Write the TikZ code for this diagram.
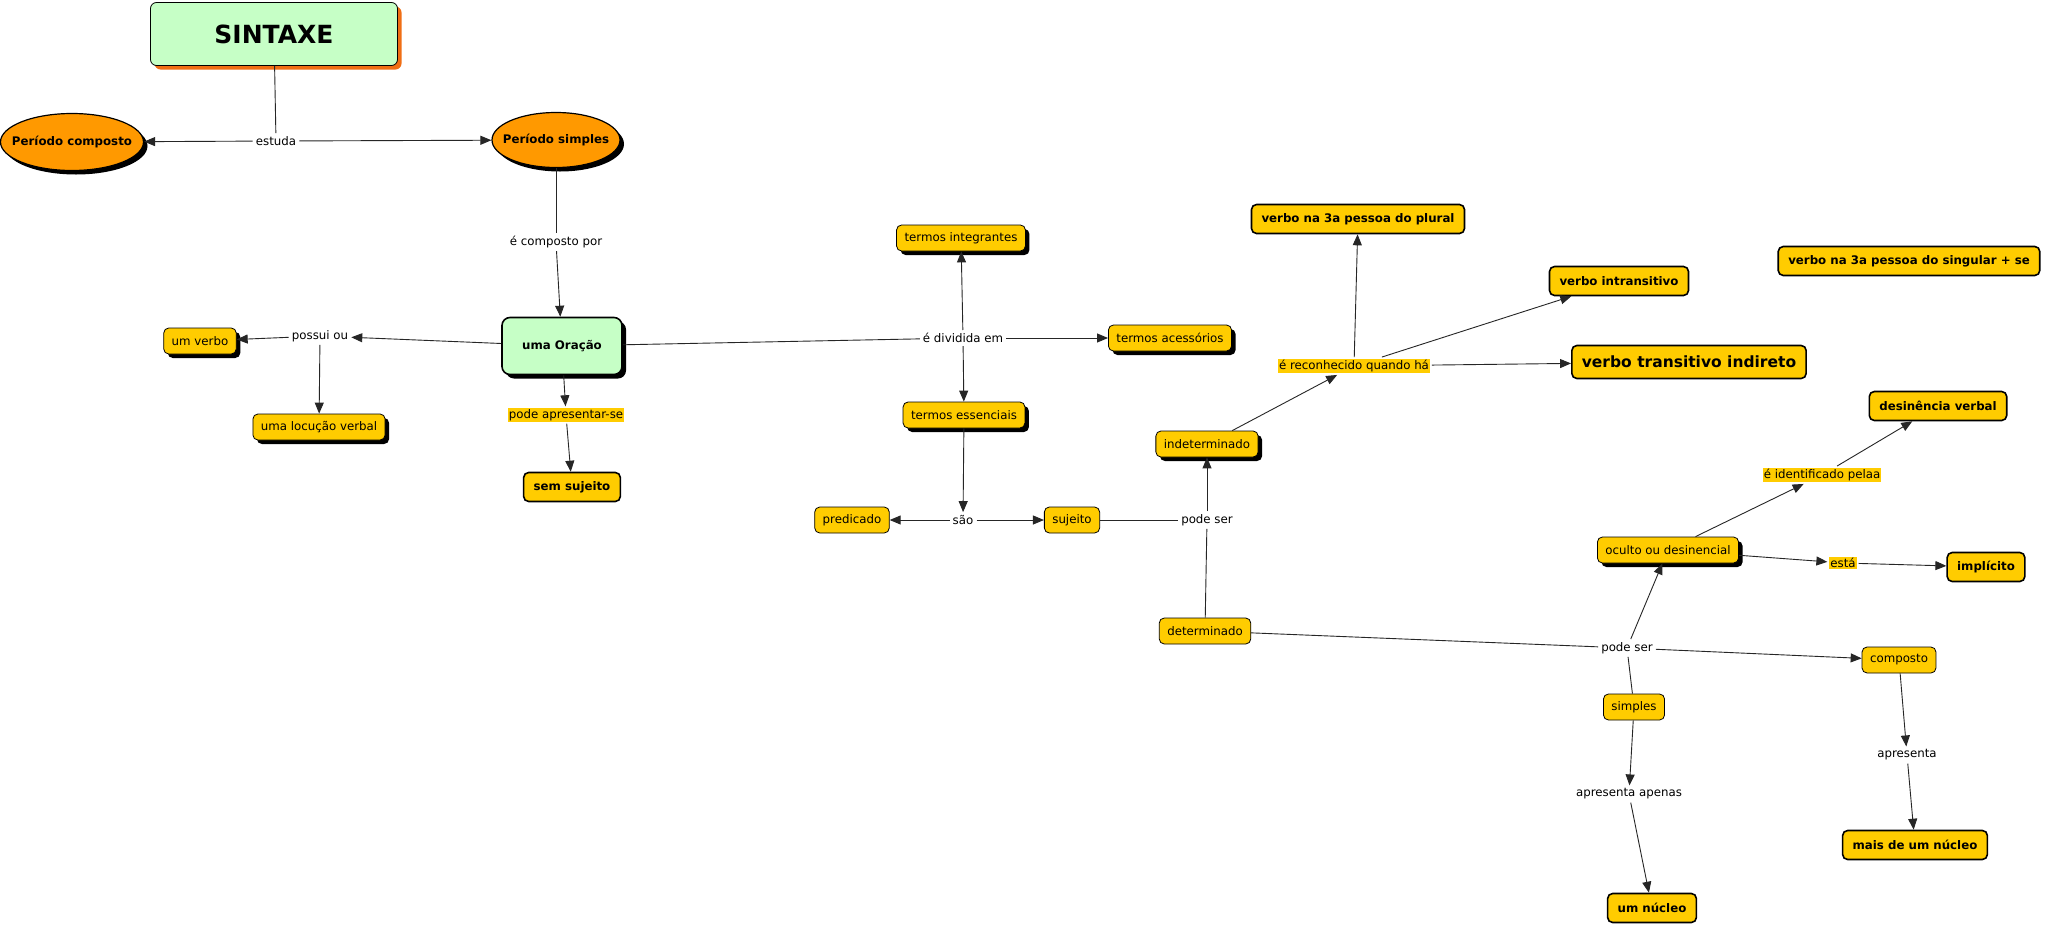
\documentclass[tikz,border=0pt]{standalone}
\usepackage{fontspec}
\setmainfont{DejaVu Sans}
\usetikzlibrary{arrows.meta,shapes.geometric,shadows}
\definecolor{cmapyellow}{RGB}{255,204,0}
\definecolor{cmaporange}{RGB}{255,153,0}
\definecolor{cmapgreen}{RGB}{198,255,198}
\definecolor{titleshadow}{RGB}{240,110,20}
\newcommand{\cmtxt}{\fontsize{11.8}{14}\selectfont}
\newcommand{\cmbold}{\fontsize{11.8}{14}\selectfont\bfseries}
\tikzset{
  link/.style      = {draw=black!85, line width=0.9pt},
  linkarr/.style   = {link, -{Triangle[length=11pt,width=9pt]}},
  phrase/.style    = {font=\cmtxt, inner sep=3pt},
  phrasehl/.style  = {phrase, fill=cmapyellow, inner sep=1pt, outer sep=2pt},
  blackshadow/.style = {drop shadow={shadow xshift=4pt, shadow yshift=-4pt, fill=black, opacity=1}},
  concept/.style   = {draw=black, fill=cmapyellow, rounded corners=5pt, line width=0.8pt,
                      font=\cmtxt, minimum height=26pt, inner xsep=8pt},
  conceptsh/.style = {concept, blackshadow},
  keybox/.style    = {concept, line width=1.6pt, font=\cmbold, minimum height=29pt, inner xsep=10pt},
  oval/.style      = {ellipse, draw=black, line width=1.2pt, fill=cmaporange, font=\cmbold,
                      inner xsep=-14pt, inner ysep=-4pt, blackshadow},
  titlebox/.style  = {draw=black, fill=cmapgreen, rounded corners=6pt, line width=0.8pt,
                      minimum width=247pt, minimum height=63pt, font=\fontsize{25}{30}\selectfont\bfseries,
                      drop shadow={shadow xshift=4pt, shadow yshift=-4pt, fill=titleshadow, opacity=1}},
  mainbox/.style   = {draw=black, fill=cmapgreen, rounded corners=8pt, line width=1.6pt,
                      minimum width=120pt, minimum height=57pt, font=\cmbold, blackshadow}
}

\begin{document}
\begin{tikzpicture}[x=1pt,y=-1pt]
  \useasboundingbox[fill=white] (0,0) rectangle (2048,929);

  \node[titlebox] (sintaxe) at (274,34) {SINTAXE};
  \node[oval, minimum width=143pt, minimum height=57pt] (pcomposto) at (72,142) {Período composto};
  \node[oval, minimum width=128pt, minimum height=55pt] (psimples) at (556,140) {Período simples};
  \node[mainbox] (oracao) at (562,346) {uma Oração};

  \node[conceptsh] (umverbo)  at (200,341) {um verbo};
  \node[conceptsh] (locucao)  at (319,427) {uma locução verbal};
  \node[keybox]    (semsuj)   at (572,487) {sem sujeito};
  \node[conceptsh] (integr)   at (961,238) {termos integrantes};
  \node[conceptsh] (acess)    at (1170,338) {termos acessórios};
  \node[conceptsh] (essenc)   at (964,415) {termos essenciais};
  \node[concept]   (predic)   at (852,520) {predicado};
  \node[concept]   (sujeito)  at (1072,520) {sujeito};
  \node[conceptsh] (indet)    at (1207,444) {indeterminado};
  \node[concept]   (determ)   at (1205,631) {determinado};
  \node[keybox]    (plural)   at (1358,219) {verbo na 3a pessoa do plural};
  \node[keybox]    (intrans)  at (1619,281) {verbo intransitivo};
  \node[keybox, font=\fontsize{15.5}{18}\selectfont\bfseries, minimum height=33pt] (transind) at (1689,362) {verbo transitivo indireto};
  \node[keybox]    (singular) at (1909,261) {verbo na 3a pessoa do singular + se};
  \node[keybox]    (desin)    at (1938,406) {desinência verbal};
  \node[conceptsh] (oculto)   at (1668,550) {oculto ou desinencial};
  \node[keybox]    (implic)   at (1986,567) {implícito};
  \node[concept]   (composto) at (1899,660) {composto};
  \node[concept]   (simples)  at (1634,707) {simples};
  \node[keybox]    (maisnuc)  at (1915,845) {mais de um núcleo};
  \node[keybox]    (umnuc)    at (1652,908) {um núcleo};

  \node[phrase]   (estuda)   at (276,141) {estuda};
  \node[phrase]   (ecomp)    at (556,242) {é composto por};
  \node[phrase]   (possui)   at (320,336) {possui ou};
  \node[phrasehl] (podeapr)  at (566,415) {pode apresentar-se};
  \node[phrase]   (dividida) at (963,338) {é dividida em};
  \node[phrase]   (sao)      at (963,520) {são};
  \node[phrase]   (podeser)  at (1207,520) {pode ser};
  \node[phrasehl] (reconh)   at (1354,366) {é reconhecido quando há};
  \node[phrasehl] (identif)  at (1822,475) {é identificado pelaa};
  \node[phrasehl] (esta)     at (1843,563) {está};
  \node[phrase]   (podeserb) at (1627,648) {pode ser};
  \node[phrase]   (apres)    at (1907,755) {apresenta};
  \node[phrase]   (apenas)   at (1629,794) {apresenta apenas};

  \draw[link] (sintaxe) -- (estuda);
  \draw[linkarr] (estuda) -- (pcomposto);
  \draw[linkarr] (estuda) -- (psimples);
  \draw[link] (psimples) -- (ecomp);
  \draw[linkarr] (ecomp) -- (oracao);
  \draw[linkarr] (oracao) -- (possui);
  \draw[linkarr] (possui) -- (umverbo);
  \draw[linkarr] (possui) -- (locucao);
  \draw[linkarr] (oracao) -- (podeapr);
  \draw[linkarr] (podeapr) -- (semsuj);
  \draw[link] (oracao) -- (dividida);
  \draw[linkarr] (dividida) -- (integr);
  \draw[linkarr] (dividida) -- (acess);
  \draw[linkarr] (dividida) -- (essenc);
  \draw[linkarr] (essenc) -- (sao);
  \draw[linkarr] (sao) -- (predic);
  \draw[linkarr] (sao) -- (sujeito);
  \draw[link] (sujeito) -- (podeser);
  \draw[linkarr] (podeser) -- (indet);
  \draw[link] (podeser) -- (determ);
  \draw[linkarr] (indet) -- (reconh);
  \draw[linkarr] (reconh) -- (plural);
  \draw[linkarr] (reconh) -- (intrans);
  \draw[linkarr] (reconh) -- (transind);
  \draw[link] (determ) -- (podeserb);
  \draw[linkarr] (podeserb) -- (composto);
  \draw[linkarr] (podeserb) -- (oculto);
  \draw[link] (simples) -- (podeserb);
  \draw[linkarr] (oculto) -- (identif);
  \draw[linkarr] (identif) -- (desin);
  \draw[linkarr] (oculto) -- (esta);
  \draw[linkarr] (esta) -- (implic);
  \draw[linkarr] (composto) -- (apres);
  \draw[linkarr] (apres) -- (maisnuc);
  \draw[linkarr] (simples) -- (apenas);
  \draw[linkarr] (apenas) -- (umnuc);
\end{tikzpicture}
\end{document}
